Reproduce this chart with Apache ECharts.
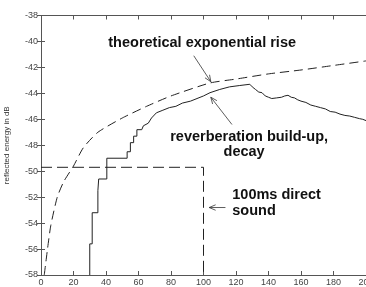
<!DOCTYPE html>
<html>
<head>
<meta charset="utf-8">
<script src="https://cdn.jsdelivr.net/npm/echarts@6/dist/echarts.min.js"></script>
<style>
  html, body { margin: 0; padding: 0; background: #fff; }
  #chart { width: 366px; height: 287px; }
</style>
</head>
<body>
<div id="chart"></div>
<script>
// theoretical exponential rise (dashed)
var theoX = [2, 3, 4, 6, 10, 14, 20, 26, 35, 50, 65, 80, 104, 120, 140, 160, 180, 200];
var theoY = [-58, -57, -56, -54.2, -52, -50.8, -49.6, -48.2, -47, -45.9, -45, -44.2, -43.2, -42.9, -42.5, -42.2, -41.85, -41.5];

// measured reverberation build-up / decay (solid, stepped at start)
var revX = [30, 30, 31.5, 31.5, 35, 35, 35.5, 35.5, 40.5, 40.5, 53, 53, 55, 55, 57, 57, 59, 59, 62, 63, 66, 68, 71, 75, 79, 83, 87, 92, 96, 100, 104, 110, 116, 122, 128.5, 130, 132, 134, 136, 138, 140, 142, 145, 148, 150, 152, 154, 156, 158, 160, 163, 166, 169, 172, 175, 178, 181, 184, 187, 190, 193, 196, 198, 200];
var revY = [-58, -55.6, -55.6, -53.2, -53.2, -51.5, -51.5, -50.6, -50.6, -49.0, -49.0, -48.5, -48.5, -47.8, -47.8, -47.3, -47.3, -46.8, -46.8, -46.5, -46.3, -45.9, -45.5, -45.3, -45.1, -45.0, -44.75, -44.6, -44.4, -44.2, -43.95, -43.7, -43.5, -43.4, -43.3, -43.5, -43.7, -43.9, -43.95, -44.2, -44.3, -44.4, -44.35, -44.3, -44.2, -44.15, -44.3, -44.35, -44.5, -44.6, -44.7, -44.9, -45.0, -45.1, -45.2, -45.4, -45.45, -45.6, -45.7, -45.75, -45.85, -45.95, -46.0, -46.1];

// 100ms direct sound window (dashed)
var directX = [0, 100, 100];
var directY = [-49.7, -49.7, -58];

var xTicks = { min: 0, max: 200, interval: 20 };
var yTicks = { min: -58, max: -38, interval: 2 };

function pairs(xs, ys) {
  return xs.map(function (x, i) { return [x, ys[i]]; });
}

var chart = echarts.init(document.getElementById('chart'));

var axisLine = { show: true, lineStyle: { color: '#555', width: 1 } };
var tickStyle = { show: true, inside: true, length: 4, lineStyle: { color: '#555' } };
var labelStyle = { color: '#444', fontSize: 9, fontFamily: 'Liberation Sans' };

var option = {
  animation: false,
  grid: { left: 41, top: 15.5, right: 0, bottom: 12, outerBoundsMode: 'none', containLabel: false },
  xAxis: [
    {
      type: 'value', min: xTicks.min, max: xTicks.max, interval: xTicks.interval,
      axisLine: axisLine, axisTick: tickStyle, splitLine: { show: false },
      axisLabel: Object.assign({ margin: 3 }, labelStyle)
    },
    {
      type: 'value', position: 'top', min: xTicks.min, max: xTicks.max, interval: xTicks.interval,
      axisLine: axisLine, axisTick: tickStyle, splitLine: { show: false },
      axisLabel: { show: false }
    }
  ],
  yAxis: [
    {
      type: 'value', min: yTicks.min, max: yTicks.max, interval: yTicks.interval,
      axisLine: axisLine, axisTick: tickStyle, splitLine: { show: false },
      axisLabel: Object.assign({ margin: 3 }, labelStyle),
      name: 'reflected energy in dB', nameLocation: 'middle', nameGap: 30,
      nameTextStyle: { color: '#333', fontSize: 8, fontFamily: 'Liberation Sans' }
    },
    {
      type: 'value', position: 'right', min: yTicks.min, max: yTicks.max, interval: yTicks.interval,
      axisLine: axisLine, axisTick: tickStyle, splitLine: { show: false },
      axisLabel: { show: false }
    }
  ],
  series: [
    {
      type: 'line', data: pairs(theoX, theoY), smooth: 0.2, showSymbol: false,
      lineStyle: { color: '#222', width: 1, type: [9, 5] }
    },
    {
      type: 'line', data: pairs(revX, revY), showSymbol: false,
      lineStyle: { color: '#222', width: 1 }
    },
    {
      type: 'line', data: pairs(directX, directY), showSymbol: false,
      lineStyle: { color: '#222', width: 1, type: [11, 5] }
    }
  ],
  graphic: []
};

chart.setOption(option);

// annotations: text + arrows, placed via data coordinates
function px(x, y) { return chart.convertToPixel({ xAxisIndex: 0, yAxisIndex: 0 }, [x, y]); }

function arrow(from, to) {
  var a = px(from[0], from[1]), b = px(to[0], to[1]);
  var ang = Math.atan2(b[1] - a[1], b[0] - a[0]);
  var L = 7, w = 0.4;
  var h1 = [b[0] - L * Math.cos(ang - w), b[1] - L * Math.sin(ang - w)];
  var h2 = [b[0] - L * Math.cos(ang + w), b[1] - L * Math.sin(ang + w)];
  return [
    { type: 'line', shape: { x1: a[0], y1: a[1], x2: b[0], y2: b[1] }, style: { stroke: '#333', lineWidth: 0.8 }, silent: true },
    { type: 'polyline', shape: { points: [h1, b, h2] }, style: { stroke: '#333', lineWidth: 0.8, fill: null }, silent: true }
  ];
}

var boldText = { fill: '#111', font: 'bold 14.5px "Liberation Sans", Arial, sans-serif' };
function label(text, x, y, align) {
  var p = px(x, y);
  return {
    type: 'text', x: p[0], y: p[1], silent: true,
    style: Object.assign({ text: text, align: align || 'left', verticalAlign: 'middle' }, boldText)
  };
}

var g = [];
g.push(label('theoretical exponential rise', 41.4, -40.1));
g.push(label('reverberation build-up,', 79.5, -47.35));
g.push(label('decay', 125, -48.5, 'center'));
g.push(label('100ms direct', 117.7, -51.8));
g.push(label('sound', 117.7, -53.1));
g = g.concat(arrow([94, -41.1], [104.5, -43.1]));
g = g.concat(arrow([117.5, -46.4], [104.5, -44.3]));
g = g.concat(arrow([113.5, -52.8], [103.5, -52.8]));

chart.setOption({ graphic: g });
</script>
</body>
</html>
